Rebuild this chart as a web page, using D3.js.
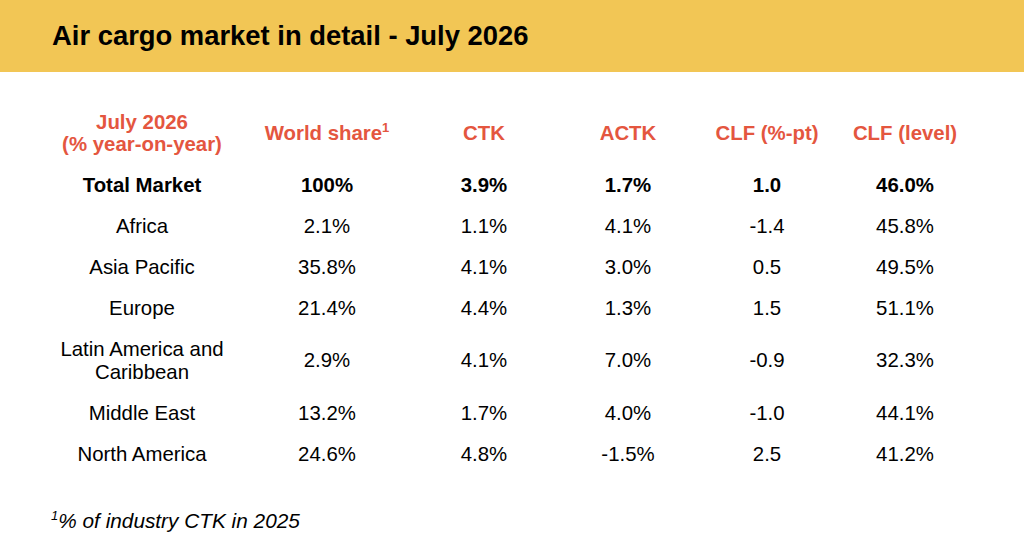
<!DOCTYPE html>
<html>
<head>
<meta charset="utf-8">
<script src="https://cdn.jsdelivr.net/npm/d3@7"></script>
<style>
  html, body { margin: 0; padding: 0; background: #fff; }
  svg { display: block; font-family: "Liberation Sans", Arial, Helvetica, sans-serif; }
</style>
</head>
<body>
<svg id="chart" width="1024" height="560"></svg>
<script>
// ---- data ----
const title = "Air cargo market in detail - July 2026";
const headerLines = [["July 2026", "(% year-on-year)"], ["World share"], ["CTK"], ["ACTK"], ["CLF (%-pt)"], ["CLF (level)"]];
const columns = ["region", "share", "ctk", "actk", "clfPt", "clfLevel"];
const regions = [["Total Market"], ["Africa"], ["Asia Pacific"], ["Europe"], ["Latin America and", "Caribbean"], ["Middle East"], ["North America"]];
const worldShare = ["100%", "2.1%", "35.8%", "21.4%", "2.9%", "13.2%", "24.6%"];
const ctk = ["3.9%", "1.1%", "4.1%", "4.4%", "4.1%", "1.7%", "4.8%"];
const actk = ["1.7%", "4.1%", "3.0%", "1.3%", "7.0%", "4.0%", "-1.5%"];
const clfPt = ["1.0", "-1.4", "0.5", "1.5", "-0.9", "-1.0", "2.5"];
const clfLevel = ["46.0%", "45.8%", "49.5%", "51.1%", "32.3%", "44.1%", "41.2%"];
const footnote = "% of industry CTK in 2025";

// ---- layout ----
const svg = d3.select("#chart");
const W = 1024, H = 560;
const red = "#E4563F";
const fontSize = 20.4;

svg.append("rect").attr("x", 0).attr("y", 0).attr("width", W).attr("height", 72).attr("fill", "#F2C655");
svg.append("text").attr("x", 52).attr("y", 45)
  .attr("font-size", 27.4).attr("font-weight", "bold").attr("fill", "#000")
  .text(title);

const x = d3.scaleOrdinal().domain(columns).range([142, 322, 484, 628, 767, 905]);

// row y positions: cumulative line units
const lineH = 23, rowPad = 18;
const rowHeights = regions.map(r => rowPad + lineH * r.length);
const cum = d3.cumsum([0, ...rowHeights]);
const y = d3.scaleLinear().domain([0, 1]).range([164.5, 165.5]);
const rowCenter = i => y(cum[i] + rowHeights[i] / 2) - 0.5;

// header
const headerG = svg.append("g");
headerLines.forEach((lines, ci) => {
  const t = headerG.append("text")
    .attr("text-anchor", "middle")
    .attr("x", x(columns[ci]))
    .attr("font-size", fontSize).attr("font-weight", "bold").attr("fill", red);
  const n = lines.length;
  lines.forEach((ln, li) => {
    t.append("tspan").attr("x", x(columns[ci]))
      .attr("y", 139.5 + (li - (n - 1) / 2) * 22)
      .text(ln);
  });
});
// superscript on World share
{
  const ws = headerG.selectAll("text").filter((d, i) => i === 1);
  ws.append("tspan").attr("font-size", 13).attr("dy", -8).text("1");
  ws.attr("x", x("share") + 5);
  ws.selectAll("tspan").filter((d, i) => i === 0).attr("x", x("share") + 5);
}

// body
const valueCols = [worldShare, ctk, actk, clfPt, clfLevel];
const body = svg.append("g");
regions.forEach((lines, ri) => {
  const cy = rowCenter(ri);
  const bold = ri === 0 ? "bold" : "normal";
  const t = body.append("text").attr("text-anchor", "middle")
    .attr("font-size", fontSize).attr("font-weight", bold).attr("fill", "#000");
  const n = lines.length;
  lines.forEach((ln, li) => {
    t.append("tspan").attr("x", x("region"))
      .attr("y", cy + 7 + (li - (n - 1) / 2) * lineH).text(ln);
  });
  valueCols.forEach((arr, ci) => {
    body.append("text").attr("text-anchor", "middle")
      .attr("x", x(columns[ci + 1]) + (ci === 0 ? 5 : 0))
      .attr("y", cy + 7)
      .attr("font-size", fontSize).attr("font-weight", bold).attr("fill", "#000")
      .text(arr[ri]);
  });
});

// footnote
const fn = svg.append("text").attr("x", 51).attr("y", 528)
  .attr("font-size", 20.8).attr("font-style", "italic").attr("fill", "#000");
fn.append("tspan").attr("font-size", 13).attr("dy", -8).text("1");
fn.append("tspan").attr("dy", 8).text(footnote);
</script>
</body>
</html>
